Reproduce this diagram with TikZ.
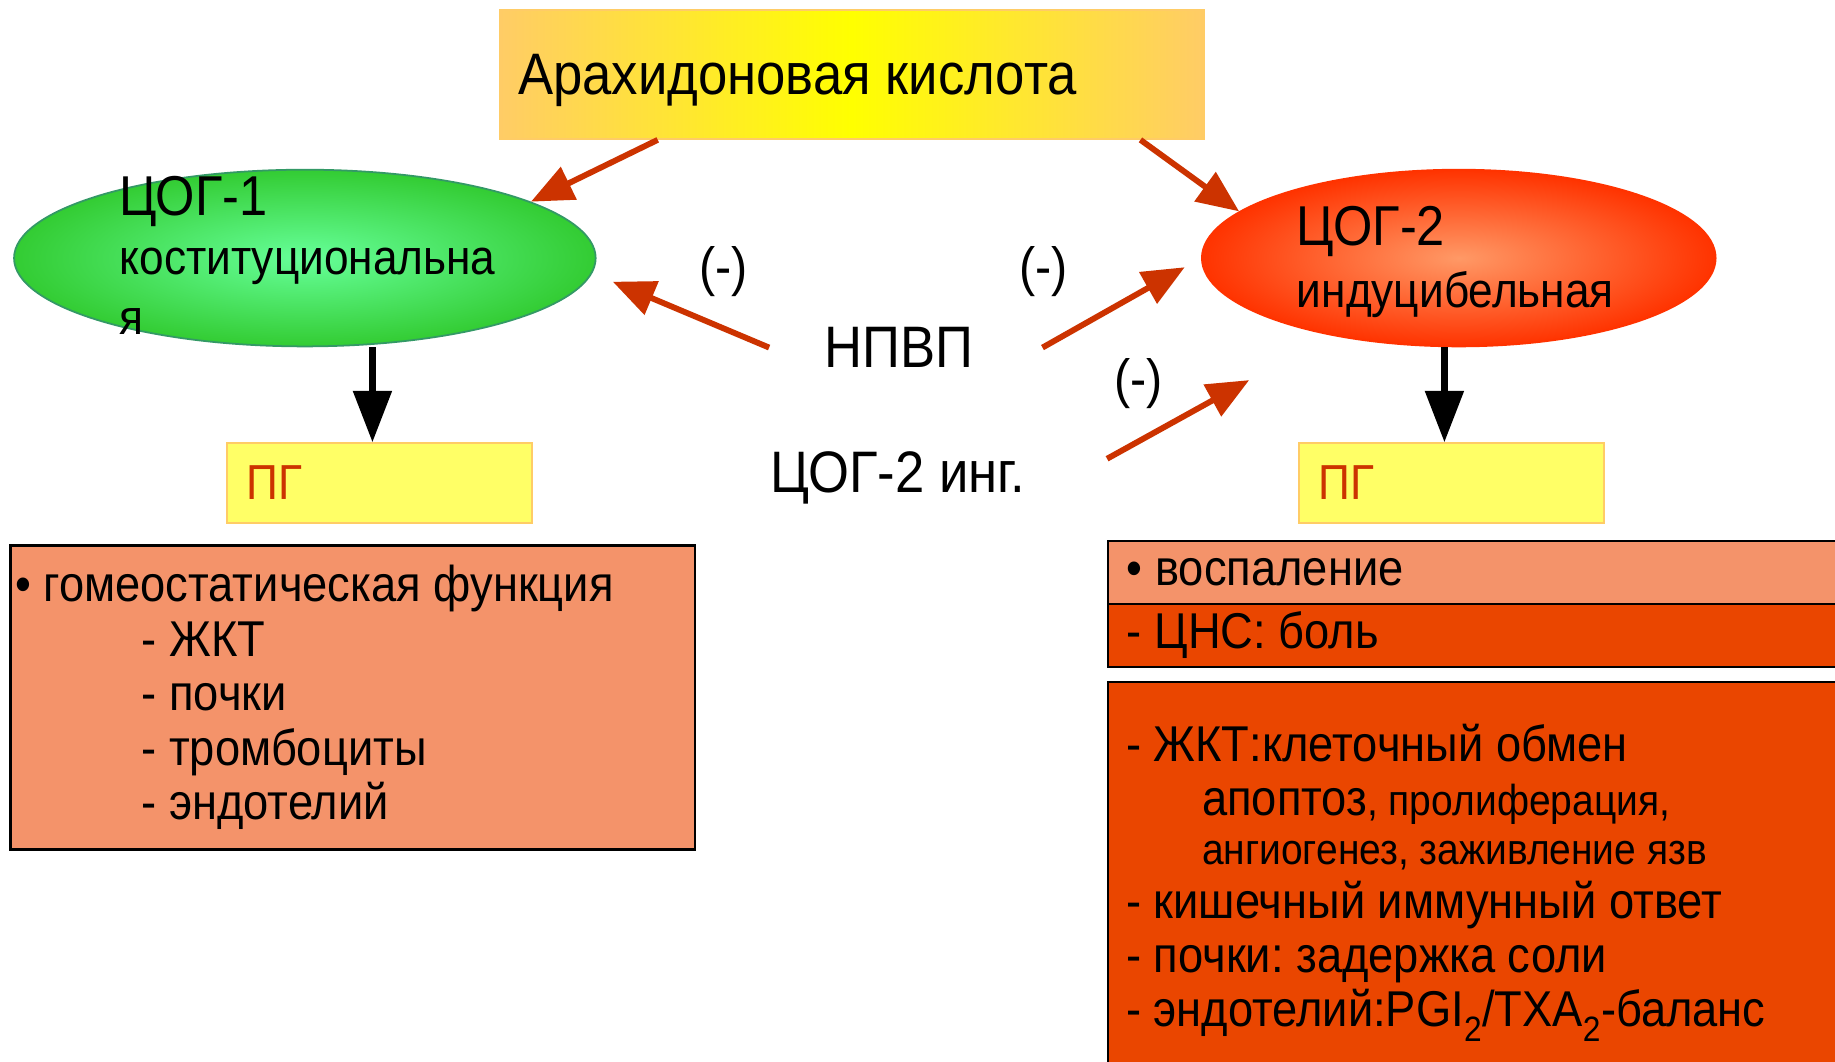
\documentclass[tikz,border=0pt]{standalone}
\usepackage{fontspec}
\setmainfont{Liberation Sans}[FakeStretch=0.9]
\usetikzlibrary{arrows.meta,shapes.geometric}
\frenchspacing

\definecolor{arrowred}{HTML}{CC3300}
\definecolor{salmon}{HTML}{F4936A}
\definecolor{deeporange}{HTML}{EA4600}
\definecolor{paleorange}{HTML}{FFCC66}
\definecolor{pgyellow}{HTML}{FFFF66}
\definecolor{mint}{HTML}{66FF99}
\definecolor{leaf}{HTML}{33CC33}
\definecolor{leafline}{HTML}{339966}
\definecolor{peach}{HTML}{FF9966}
\definecolor{flame}{HTML}{FF3300}

\begin{document}
\begin{tikzpicture}[x=1pt, y=-1pt,
  redarrow/.style={draw=arrowred, line width=5pt, -{Triangle[length=36pt, width=30pt]}},
  pgarrow/.style={draw=black, line width=6pt, -{Triangle[length=44pt, width=32pt]}},
  pgbox/.style={draw=paleorange, line width=1.5pt, fill=pgyellow, anchor=north west, minimum width=261pt, minimum height=68pt, text width=227pt, inner xsep=17pt, inner ysep=0pt, align=flush left, text=arrowred, font=\fontsize{42}{46}\selectfont},
  listbox/.style={draw=black, line width=2pt, anchor=north west, inner ysep=0pt, align=flush left, font=\fontsize{43}{46.5}\selectfont},
  inhlabel/.style={font=\fontsize{46}{50}\selectfont, inner sep=0pt},
  druglabel/.style={font=\fontsize{50}{52}\selectfont, inner sep=0pt}]
  \path[use as bounding box, fill=white] (0,0) rectangle (1568,907);

  \node[draw=paleorange, line width=1.5pt, left color=paleorange, right color=paleorange, middle color=yellow, anchor=north west, minimum width=602pt, minimum height=110pt, text width=570pt, text depth=0pt, inner xsep=16pt, align=flush left, font=\fontsize{50}{56}\selectfont] (aa) at (426,8) {Арахидоновая кислота};

  \node[ellipse, draw=leafline, line width=1.5pt, inner color=mint, outer color=leaf, minimum width=497pt, minimum height=151pt] (cox1) at (260.5,220.5) {};
  \node[anchor=north west, align=left, inner sep=0pt, font=\fontsize{42}{51}\selectfont] (cox1txt) at (102,150) {{\fontsize{48}{51}\selectfont ЦОГ-1}\\коституциональна\\я};
  \node[ellipse, draw=flame, line width=1.5pt, inner color=peach, outer color=flame, minimum width=439pt, minimum height=151pt] (cox2) at (1246.5,220.5) {};
  \node[anchor=north west, align=left, inner sep=0pt, font=\fontsize{42}{53}\selectfont] (cox2txt) at (1108,176) {{\fontsize{48}{53}\selectfont ЦОГ-2}\\индуцибельная};

  \node[pgbox] (pg1) at (193,378) {ПГ};
  \node[pgbox] (pg2) at (1109,378) {ПГ};

  \node[druglabel] (nsaid) at (768,297) {НПВП};
  \node[druglabel] (coxinh) at (767,408) {ЦОГ-2 инг.};
  \node[inhlabel] (m1) at (618,232) {(-)};
  \node[inhlabel] (m2) at (892,232) {(-)};
  \node[inhlabel] (m3) at (973,328) {(-)};

  \draw[redarrow] ([xshift=136pt]aa.south west) -- (cox1.14);
  \draw[redarrow] ([xshift=-55pt]aa.south east) -- (cox2.168);
  \draw[redarrow, shorten >=19pt] ([xshift=-47pt]nsaid.west) -- (cox1.-3);
  \draw[redarrow, shorten >=16pt] ([xshift=59pt]nsaid.east) -- (cox2.west);
  \draw[redarrow, shorten >=79pt] ([xshift=70pt, yshift=16pt]coxinh.east) -- (cox2.211);
  \draw[pgarrow] ([xshift=-6pt]pg1.north |- cox1.south) -- ([xshift=-6pt]pg1.north);
  \draw[pgarrow] ([xshift=-6pt]pg2.north |- cox2.south) -- ([xshift=-6pt]pg2.north);

  \node[listbox, fill=salmon, minimum width=585pt, minimum height=260pt, text width=577pt, inner xsep=4pt] (homeo) at (8,465) {• гомеостатическая функция\\\hspace*{108pt}- ЖКТ\\\hspace*{108pt}- почки\\\hspace*{108pt}- тромбоциты\\\hspace*{108pt}- эндотелий};
  \node[listbox, fill=salmon, minimum width=634pt, minimum height=54pt, text width=602pt, inner xsep=16pt] (infl) at (946,461) {• воспаление};
  \node[listbox, fill=deeporange, minimum width=634pt, minimum height=54pt, text width=602pt, inner xsep=16pt] (cns) at (946,515) {- ЦНС: боль};
  \node[listbox, fill=deeporange, minimum width=634pt, minimum height=340pt] (gut) at (946,582) {};
  \node[anchor=north west, align=left, inner sep=0pt, font=\fontsize{43}{46}\selectfont] (guttxt) at (962,619) {- ЖКТ:клеточный обмен\\\hspace*{65pt}апоптоз{\fontsize{37}{46}\selectfont, пролиферация,}\\[-4pt]\hspace*{65pt}{\fontsize{37}{46}\selectfont ангиогенез, заживление язв}\\- кишечный иммунный ответ\\- почки: задержка соли\\- эндотелий:PGI\textsubscript{2}/TXA\textsubscript{2}-баланс};
\end{tikzpicture}
\end{document}
